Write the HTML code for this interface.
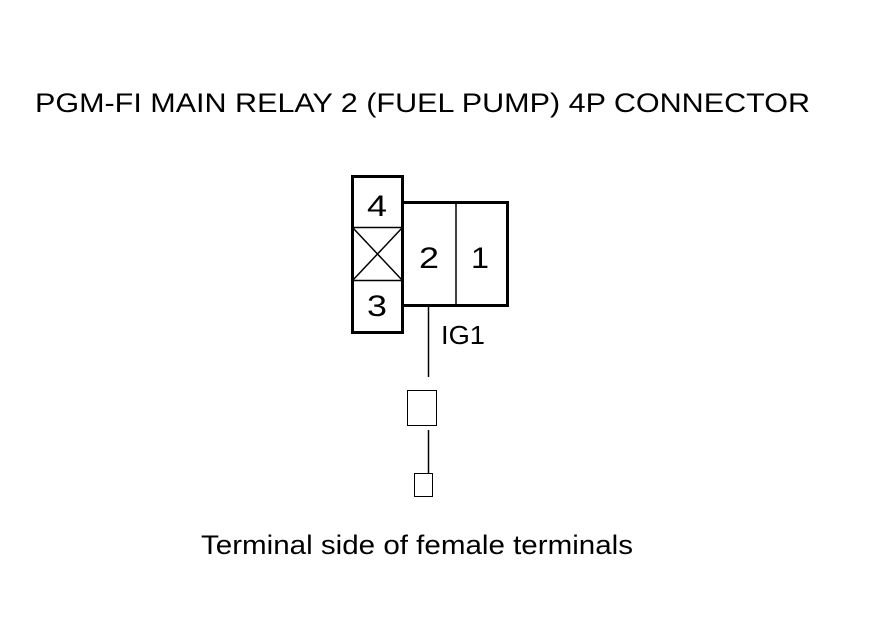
<!DOCTYPE html>
<html><head><style>
body{margin:0;background:#fff;}
svg{display:block;}
text{font-family:"Liberation Sans",Arial,sans-serif;fill:#000;}
</style></head><body>
<svg width="880" height="630" viewBox="0 0 880 630">
<text x="35" y="112" font-size="27" textLength="775" lengthAdjust="spacingAndGlyphs">PGM-FI MAIN RELAY 2 (FUEL PUMP) 4P CONNECTOR</text>
<rect x="352.5" y="176.5" width="50" height="156" fill="none" stroke="#000" stroke-width="3"/>
<line x1="352" y1="227.5" x2="403" y2="227.5" stroke="#000" stroke-width="1.5"/>
<line x1="352" y1="280.5" x2="403" y2="280.5" stroke="#000" stroke-width="1.5"/>
<line x1="353" y1="228" x2="402" y2="280" stroke="#000" stroke-width="1.5"/>
<line x1="402" y1="228" x2="353" y2="280" stroke="#000" stroke-width="1.5"/>
<polyline points="402,202.5 507.5,202.5 507.5,305.5 402,305.5" fill="none" stroke="#000" stroke-width="3"/>
<line x1="456" y1="202" x2="456" y2="305" stroke="#000" stroke-width="1.5"/>
<text x="367" y="216" font-size="30" textLength="20" lengthAdjust="spacingAndGlyphs">4</text>
<text x="367" y="316" font-size="30" textLength="20" lengthAdjust="spacingAndGlyphs">3</text>
<text x="419" y="268" font-size="30" textLength="20" lengthAdjust="spacingAndGlyphs">2</text>
<text x="471" y="268" font-size="30" textLength="18" lengthAdjust="spacingAndGlyphs">1</text>
<text x="441" y="344" font-size="26" textLength="44" lengthAdjust="spacingAndGlyphs">IG1</text>
<line x1="428.5" y1="306" x2="428.5" y2="377" stroke="#000" stroke-width="1.5"/>
<rect x="407.5" y="390.5" width="29" height="35" fill="none" stroke="#000" stroke-width="1"/>
<line x1="428.5" y1="430" x2="428.5" y2="473" stroke="#000" stroke-width="1.5"/>
<rect x="414.5" y="473.5" width="18" height="23" fill="none" stroke="#000" stroke-width="1"/>
<text x="201" y="554" font-size="27" textLength="432" lengthAdjust="spacingAndGlyphs">Terminal side of female terminals</text>
</svg>
</body></html>
